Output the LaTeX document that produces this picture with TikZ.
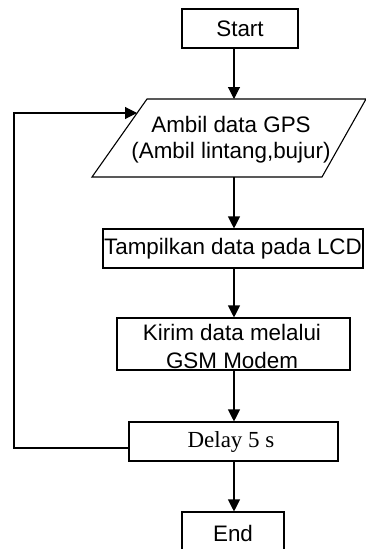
\documentclass[tikz,border=0pt]{standalone}
\usepackage{fontspec}
\setmainfont{Liberation Sans}
\newfontfamily\serifx{Liberation Serif}
\usetikzlibrary{arrows.meta}
\begin{document}
\begin{tikzpicture}[x=1pt,y=-1pt,
  box/.style={draw,line width=1.1pt,inner sep=0pt,align=center,font=\fontsize{22.4}{27}\selectfont},
  txt/.style={inner sep=0pt,align=center,font=\fontsize{22.4}{27}\selectfont},
  flow/.style={line width=1.1pt,-{Triangle[width=12pt,length=12pt]}},
  edge/.style={line width=1.1pt}]
\clip (0,0) rectangle (366,549);
\useasboundingbox (0,0) rectangle (366,549);
% Start
\node[box,minimum width=116pt,minimum height=39pt] (start) at (240,28.5) {Start};
% Parallelogram
\coordinate (gbl) at (92,177);
\coordinate (gtl) at (147,99);
\coordinate (gtr) at (366,99);
\coordinate (gbr) at (322,177);
\draw[edge] (gbl) -- (gtl) -- (gtr) -- (gbr) -- cycle;
\node[txt,font=\fontsize{22.4}{26}\selectfont] (gps) at (231,140) {Ambil data GPS\\(Ambil lintang,bujur)};
\coordinate (gin) at (234,99);
\coordinate (gout) at (234,177);
\coordinate (gleft) at (137,113);
% LCD
\node[box,minimum width=260pt,minimum height=39pt] (lcd) at (233,248.5) {Tampilkan data pada LCD};
% GSM
\node[box,minimum width=233pt,minimum height=52pt] (gsm) at (233.5,344) {};
\node[txt,font=\fontsize{22.4}{28}\selectfont] (gsmtxt) at (232,346.5) {Kirim data melalui\\GSM Modem};
% Delay
\node[box,minimum width=209pt,minimum height=39pt] (delay) at (233.5,441.5) {};
\node[txt,font=\serifx\fontsize{23}{26}\selectfont] (delaytxt) at (231,442) {Delay 5 s};
% End
\node[box,minimum width=102pt,minimum height=43pt] (end) at (233,533.5) {End};
% connectors
\draw[flow] (start.south -| gin) -- (gin);
\draw[flow] (gout) -- (lcd.north -| gout);
\draw[flow] (lcd.south -| gout) -- (gsm.north -| gout);
\draw[flow] (gsm.south -| gout) -- (delay.north -| gout);
\draw[flow] (delay.south -| gout) -- (end.north -| gout);
\coordinate (dl) at (129,448);
\coordinate (c1) at (14,448);
\coordinate (c2) at (14,113);
\draw[flow] (dl) -- (c1) -- (c2) -- (gleft);
\end{tikzpicture}
\end{document}
